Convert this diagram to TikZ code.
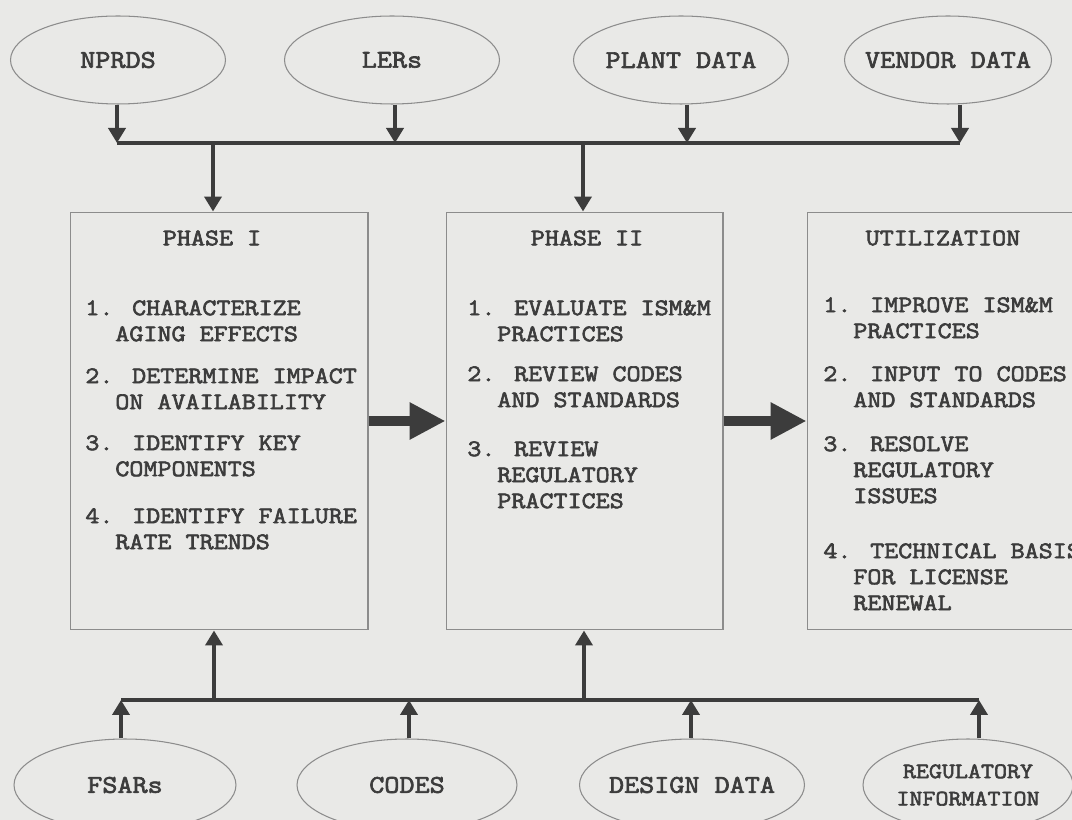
\documentclass[tikz,border=0pt]{standalone}
\usepackage{fontspec}
\newfontfamily\typer{Latin Modern Mono}[FakeStretch=1.15, FakeBold=2.6]
\usepackage{tikz}
\usetikzlibrary{positioning, arrows.meta, shapes.geometric, calc}
\definecolor{paper}{RGB}{233,233,231}
\definecolor{ink}{RGB}{60,60,60}
\definecolor{rule}{RGB}{140,140,140}
\newcommand{\Ind}{\hspace*{0.6cm}}
\tikzset{
    source/.style={ellipse, draw=rule, line width=0.6pt, inner sep=-0.3cm,
      minimum width=4.3cm, minimum height=1.76cm, text=ink,
      font=\typer\fontsize{14.5}{17}\selectfont},
    phase/.style={rectangle, draw=rule, line width=0.6pt, minimum height=8.36cm},
    title/.style={inner sep=0pt, text=ink, font=\typer\fontsize{13.5}{15}\selectfont},
    item/.style={anchor=north west, align=left, inner sep=0pt, text=ink,
      font=\typer\fontsize{13.5}{14.8}\selectfont},
    bus/.style={draw=ink, line width=2.4pt},
    feed/.style={draw=ink, line width=2.4pt, -{Triangle[length=0.3cm, width=0.34cm]}},
    flow/.style={draw=ink, line width=0.2cm, -{Triangle[length=0.72cm, width=0.7cm]}},
}

\begin{document}
\begin{tikzpicture}[x=0.02cm, y=-0.02cm]
    \useasboundingbox (0,0) rectangle (1072,820);
    \fill[paper] (0,0) rectangle (1072,820);

    % data sources, top row
    \node[source] (nprds) at (118,60) {NPRDS};
    \node[source] (lers) at (392,60) {LERs};
    \node[source] (plant) at (681,60) {PLANT DATA};
    \node[source, minimum width=4.14cm] (vendor) at (948,60) {VENDOR DATA};

    % the three stages
    \node[phase, minimum width=5.96cm] (p1) at (219,421) {};
    \node[phase, minimum width=5.54cm] (p2) at (584.5,421) {};
    \node[phase, minimum width=5.9cm] (util) at (954.5,421) {};

    \node[title] (p1t) at (212,238) {PHASE I};
    \node[title] (p2t) at (587,238) {PHASE II};
    \node[title] (utilt) at (943,238) {UTILIZATION};

    \node[item] (p1a) at (85,300) {1. CHARACTERIZE\\\Ind AGING EFFECTS};
    \node[item] (p1b) at (85,368) {2. DETERMINE IMPACT\\\Ind ON AVAILABILITY};
    \node[item] (p1c) at (85,435) {3. IDENTIFY KEY\\\Ind COMPONENTS};
    \node[item] (p1d) at (85,508) {4. IDENTIFY FAILURE\\\Ind RATE TRENDS};

    \node[item] (p2a) at (467,300) {1. EVALUATE ISM\&M\\\Ind PRACTICES};
    \node[item] (p2b) at (467,366) {2. REVIEW CODES\\\Ind AND STANDARDS};
    \node[item] (p2c) at (467,441) {3. REVIEW\\\Ind REGULATORY\\\Ind PRACTICES};

    \node[item] (utila) at (823,297) {1. IMPROVE ISM\&M\\\Ind PRACTICES};
    \node[item] (utilb) at (823,366) {2. INPUT TO CODES\\\Ind AND STANDARDS};
    \node[item] (utilc) at (823,436) {3. RESOLVE\\\Ind REGULATORY\\\Ind ISSUES};
    \node[item] (utild) at (823,543) {4. TECHNICAL BASIS\\\Ind FOR LICENSE\\\Ind RENEWAL};

    % data sources, bottom row
    \node[source, minimum width=4.44cm, minimum height=1.84cm] (fsars) at (125,785) {FSARs};
    \node[source, minimum width=4.4cm, minimum height=1.84cm] (codes) at (407,785) {CODES};
    \node[source, minimum width=4.5cm, minimum height=1.84cm] (design) at (692,785) {DESIGN DATA};
    \node[source, minimum width=4.2cm, minimum height=1.84cm, align=center,
      font=\typer\fontsize{12.5}{15.5}\selectfont] (reginfo) at (968,785) {REGULATORY\\INFORMATION};

    % upper collector
    \coordinate (tb1) at (117,143);
    \coordinate (tb2) at (395,143);
    \coordinate (tb3) at (687,143);
    \coordinate (tb4) at (960,143);
    \coordinate (td1) at (213,143);
    \coordinate (td2) at (583,143);
    \draw[bus] (tb1) -- (tb4);
    \draw[feed] (nprds.south -| tb1) -- (tb1);
    \draw[feed] (lers.south -| tb2) -- (tb2);
    \draw[feed] (plant.south -| tb3) -- (tb3);
    \draw[feed] (vendor.south -| tb4) -- (tb4);
    \draw[feed] (td1) -- (p1.north -| td1);
    \draw[feed] (td2) -- (p2.north -| td2);

    % lower collector
    \coordinate (bb1) at (121,700);
    \coordinate (bb2) at (409,700);
    \coordinate (bb3) at (691,700);
    \coordinate (bb4) at (979,700);
    \coordinate (bu1) at (214,700);
    \coordinate (bu2) at (584,700);
    \draw[bus] (bb1) -- (bb4);
    \draw[feed] (fsars.north -| bb1) -- (bb1);
    \draw[feed] (codes.north -| bb2) -- (bb2);
    \draw[feed] (design.north -| bb3) -- (bb3);
    \draw[feed] (reginfo.north -| bb4) -- (bb4);
    \draw[feed] (bu1) -- (p1.south -| bu1);
    \draw[feed] (bu2) -- (p2.south -| bu2);

    % stage to stage
    \draw[flow] (p1.east) -- (p2.west);
    \draw[flow] (p2.east) -- (util.west);
\end{tikzpicture}
\end{document}
